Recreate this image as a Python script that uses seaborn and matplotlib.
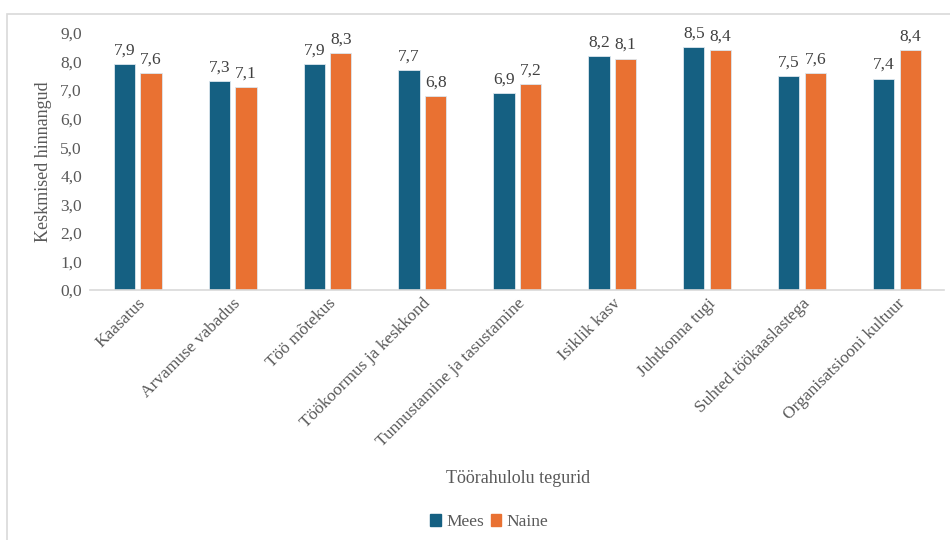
import pandas as pd
import matplotlib.pyplot as plt
import seaborn as sns
from matplotlib.patches import Rectangle
from matplotlib.ticker import FuncFormatter, MultipleLocator

# Data
categories = ['Kaasatus', 'Arvamuse vabadus', 'Töö mõtekus', 'Töökoormus ja keskkond',
              'Tunnustamine ja tasustamine', 'Isiklik kasv', 'Juhtkonna tugi',
              'Suhted töökaaslastega', 'Organisatsiooni kultuur']
mees = [7.9, 7.3, 7.9, 7.7, 6.9, 8.2, 8.5, 7.5, 7.4]
naine = [7.6, 7.1, 8.3, 6.8, 7.2, 8.1, 8.4, 7.6, 8.4]
groups = ['Mees', 'Naine']
colors = ['#156082', '#E97132']

df = pd.DataFrame({
    'tegur': categories * 2,
    'sugu': ['Mees'] * len(categories) + ['Naine'] * len(categories),
    'hinnang': mees + naine,
})

sns.set_style('white')
plt.rcParams['font.family'] = ['Liberation Serif', 'DejaVu Serif']

fig = plt.figure(figsize=(9.5, 5.4), dpi=100)
ax = fig.add_axes([0.095, 0.463, 0.899, 0.476])

sns.barplot(data=df, x='tegur', y='hinnang', hue='sugu', hue_order=groups,
            palette=colors, saturation=1, width=0.56, gap=0.2,
            edgecolor='#dce6ee', linewidth=0.6, ax=ax, legend=False)

# Data labels with decimal comma
for cont in ax.containers:
    ax.bar_label(cont, fmt=lambda v: f'{v:.1f}'.replace('.', ','), padding=4,
                 fontsize=12.5, color='#404040')

'''
Format chart
'''
ax.set_ylim(0, 9)
ax.yaxis.set_major_locator(MultipleLocator(1))
ax.yaxis.set_major_formatter(FuncFormatter(lambda v, p: f'{v:.1f}'.replace('.', ',')))
ax.tick_params(axis='y', labelsize=12.5, labelcolor='#595959', length=0, pad=6)
ax.tick_params(axis='x', labelsize=12.5, labelcolor='#595959', length=0, pad=4)
plt.setp(ax.get_xticklabels(), rotation=45, ha='right', rotation_mode='anchor')

for s in ['top', 'right', 'left']:
    ax.spines[s].set_visible(False)
ax.spines['bottom'].set_color('#D9D9D9')
ax.spines['bottom'].set_linewidth(1.2)

ax.set_ylabel('Keskmised hinnangud', fontsize=13, color='#595959', labelpad=6)
ax.set_xlabel('')
fig.text(0.545, 0.114, 'Töörahulolu tegurid', fontsize=13, color='#595959', ha='center', va='center')

# Legend
handles = [Rectangle((0, 0), 1, 1, color=c) for c in colors]
leg = fig.legend(handles, groups, loc='center', bbox_to_anchor=(0.515, 0.034), ncol=2, frameon=False,
                 fontsize=12.5, handlelength=0.6, handleheight=0.7,
                 handletextpad=0.3, columnspacing=0.4)
for t in leg.get_texts():
    t.set_fontfamily('Liberation Serif')
    t.set_color('#595959')

# Chart border
fig.patches.append(Rectangle((0.0075, -0.01), 1.0, 0.984, transform=fig.transFigure,
                             fill=False, edgecolor='#D9D9D9', linewidth=1.2))

plt.savefig('out.png', dpi=100)
